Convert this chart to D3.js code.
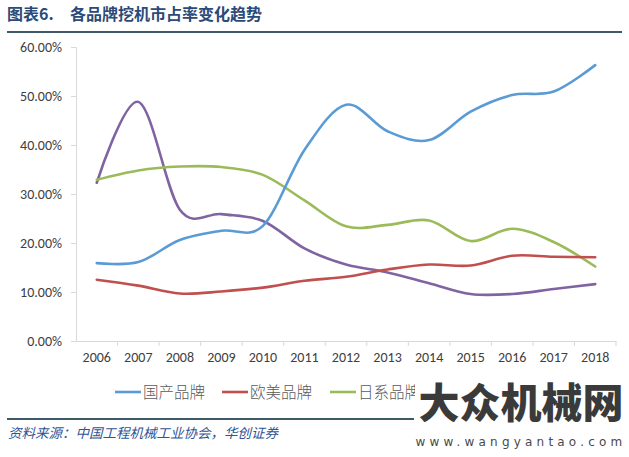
<!DOCTYPE html>
<html>
<head>
<meta charset="utf-8">
<script src="https://cdn.jsdelivr.net/npm/d3@7"></script>
<style>
  body { margin: 0; background: #fff; }
  text { font-family: "Noto Sans CJK SC", "Open Sans", sans-serif; }
  .tick text { font-family: Carlito, "Open Sans", "Liberation Sans", sans-serif; }
</style>
</head>
<body>
<div id="chartContainer"></div>
<script>
// data (share, %)
const years = ["2006", "2007", "2008", "2009", "2010", "2011", "2012", "2013", "2014", "2015", "2016", "2017", "2018"];
const seriesNames = ["国产品牌", "欧美品牌", "日系品牌"];
const domestic = [15.9, 16.1, 20.6, 22.5, 23.5, 39.0, 48.2, 42.8, 41.0, 46.8, 50.2, 50.9, 56.3];
const euroUs = [12.5, 11.3, 9.7, 10.1, 10.9, 12.3, 13.1, 14.6, 15.6, 15.4, 17.4, 17.2, 17.1];
const japan = [32.9, 34.8, 35.6, 35.5, 33.9, 28.7, 23.4, 23.7, 24.6, 20.4, 22.9, 20.2, 15.2];
// fourth series: its legend entry is hidden under the watermark
const korea = [32.3, 48.8, 26.8, 25.9, 24.5, 18.9, 15.6, 14.0, 11.8, 9.6, 9.6, 10.6, 11.6];
const yTicks = [0, 0.1, 0.2, 0.3, 0.4, 0.5, 0.6];
const colors = ["#5b9bd5", "#c0504d", "#9bbb59", "#8064a2"];

const W = 629, H = 457;
const margin = { top: 47, right: 13, bottom: 116, left: 76 },
  width = W - margin.left - margin.right,
  height = H - margin.top - margin.bottom;

const root = d3.select("#chartContainer").append("svg")
  .attr("width", W).attr("height", H);

// title + rule
root.append("text").attr("x", 7).attr("y", 20)
  .style("font-size", "16px").style("font-weight", "bold").attr("fill", "#2c4a78")
  .text("图表6.");
root.append("text").attr("x", 70).attr("y", 20)
  .style("font-size", "16px").style("font-weight", "bold").attr("fill", "#2c4a78")
  .text("各品牌挖机市占率变化趋势");
root.append("line").attr("x1", 7).attr("x2", 622).attr("y1", 32).attr("y2", 32)
  .attr("stroke", "#3d5a66").attr("stroke-width", 2);

const svg = root.append("g")
  .attr("transform", "translate(" + margin.left + "," + margin.top + ")");

const x = d3.scaleBand().domain(years).range([0, width]).paddingInner(0).paddingOuter(0);
const y = d3.scaleLinear().domain([0, 0.6]).range([height, 0]);

// y axis
const yAxis = svg.append("g")
  .call(d3.axisLeft(y).tickValues(yTicks).tickFormat(d3.format(".2%")).tickSize(5).tickPadding(9));
yAxis.select(".domain").attr("stroke", "#d9d9d9");
yAxis.selectAll(".tick line").attr("stroke", "#d9d9d9");
yAxis.selectAll(".tick text").style("font-size", "14px").attr("fill", "#404040");

// x axis: labels at band centres, ticks at band edges
const xAxis = svg.append("g").attr("transform", "translate(0," + height + ")")
  .call(d3.axisBottom(x).tickSize(0).tickPadding(11));
xAxis.select(".domain").attr("stroke", "#d9d9d9");
xAxis.selectAll(".tick text").style("font-size", "14px").attr("fill", "#404040");
svg.append("g").selectAll("line")
  .data(years.slice(1).map((d) => x(d)).concat([width]))
  .join("line")
  .attr("x1", (d) => d).attr("x2", (d) => d)
  .attr("y1", height).attr("y2", height + 5)
  .attr("stroke", "#d9d9d9");

// lines
const allSeries = [domestic, euroUs, japan, korea];
const line = d3.line()
  .x((d, i) => x(years[i]) + x.bandwidth() / 2)
  .y((d) => y(d / 100))
  .curve(d3.curveCardinal.tension(0));

svg.selectAll(".series")
  .data([korea, japan, euroUs, domestic])
  .join("path")
  .attr("class", "series")
  .attr("d", line)
  .attr("fill", "none")
  .attr("stroke", (d) => colors[allSeries.indexOf(d)])
  .attr("stroke-width", 2.6)
  .attr("stroke-linecap", "round");

// legend
const legendX = [115, 222, 330];
const legend = root.append("g").attr("transform", "translate(0,392)");
seriesNames.forEach((name, i) => {
  legend.append("line").attr("x1", legendX[i]).attr("x2", legendX[i] + 26)
    .attr("y1", 0).attr("y2", 0).attr("stroke", colors[i]).attr("stroke-width", 2.6);
  legend.append("text").attr("x", legendX[i] + 28).attr("y", 5.5)
    .style("font-size", "15.5px").style("font-weight", 300).attr("fill", "#595959").text(name);
});

// source rule + note
root.append("line").attr("x1", 7).attr("x2", 414).attr("y1", 419).attr("y2", 419)
  .attr("stroke", "#3d5a66").attr("stroke-width", 2);
root.append("text").attr("x", 8).attr("y", 438)
  .style("font-size", "13.5px").style("font-style", "italic").attr("fill", "#2f5496")
  .text("资料来源：中国工程机械工业协会，华创证券");

// watermark
const wm = root.append("g");
wm.append("rect").attr("x", 415).attr("y", 372).attr("width", 214).attr("height", 85).attr("fill", "#fff");
wm.append("text").attr("x", 521).attr("y", 418).attr("text-anchor", "middle")
  .style("font-size", "41px").style("font-weight", 900).attr("fill", "#3a3a3a")
  .text("大众机械网");
wm.append("text").attr("x", 521).attr("y", 446).attr("text-anchor", "middle")
  .style("font-size", "12px").style("letter-spacing", "4.2px").attr("fill", "#4a4a4a")
  .style("font-family", "'DejaVu Sans', sans-serif")
  .text("www.wangyantao.com");
</script>
</body>
</html>
